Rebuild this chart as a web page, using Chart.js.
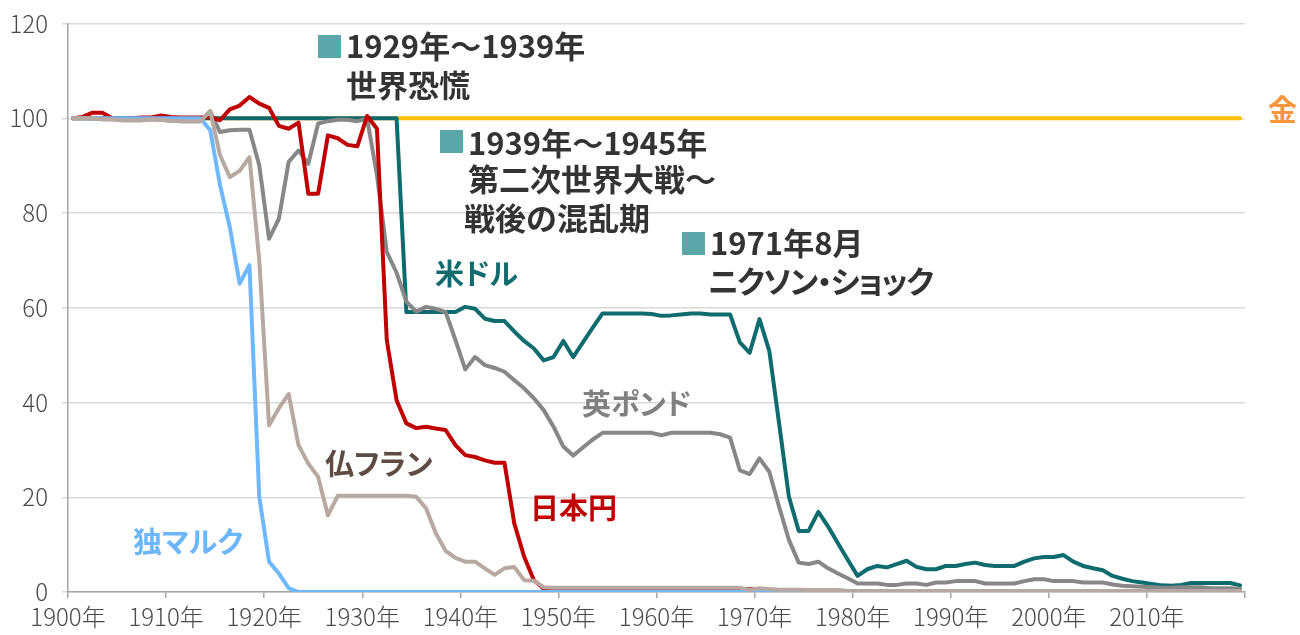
<!DOCTYPE html>
<html lang="ja">
<head>
<meta charset="utf-8">
<title>主要通貨の価値の推移（金=100）</title>
<script src="https://cdn.jsdelivr.net/npm/chart.js@4.4.1/dist/chart.umd.min.js"></script>
<style>
    html, body { margin: 0; padding: 0; background: #fff; }
    #wrap {
        position: relative;
        width: 1300px;
        height: 635px;
        font-family: "Noto Sans CJK JP", "Noto Sans", sans-serif;
    }
    #chart { position: absolute; left: 0; top: 0; }
    .note, .series {
        position: absolute;
        white-space: nowrap;
        font-weight: 700;
        line-height: 1;
    }
    .note { font-size: 31px; color: #333333; }
    .series { font-size: 29px; font-feature-settings: "palt"; }
    .kana { font-feature-settings: "palt"; letter-spacing: -1.5px; }
    .mark { position: absolute; width: 23px; height: 23px; background: #5ba6a6; }
</style>
</head>
<body>
<div id="wrap">
    <canvas id="chart" width="1300" height="635"></canvas>

    <!-- 出来事の注記 -->
    <div class="mark" style="left:318px; top:35px;"></div>
    <div class="note" style="left:346px; top:29px;">1929年～1939年</div>
    <div class="note" style="left:346px; top:68px;">世界恐慌</div>

    <div class="mark" style="left:440px; top:130px;"></div>
    <div class="note" style="left:468px; top:126px;">1939年～1945年</div>
    <div class="note" style="left:468px; top:162px;">第二次世界大戦～</div>
    <div class="note" style="left:464px; top:201px;">戦後の混乱期</div>

    <div class="mark" style="left:682px; top:232px;"></div>
    <div class="note" style="left:710px; top:226px;">1971年8月</div>
    <div class="note kana" style="left:708px; top:264px;">ニクソン・ショック</div>

    <!-- 系列名 -->
    <div class="series" style="left:435px; top:258px; color:#0f6b6e;">米ドル</div>
    <div class="series" style="left:582px; top:388px; color:#808080;">英ポンド</div>
    <div class="series" style="left:325px; top:448px; color:#5e4b43;">仏フラン</div>
    <div class="series" style="left:530px; top:492px; color:#c00000;">日本円</div>
    <div class="series" style="left:133px; top:526px; color:#6db6fc;">独マルク</div>
    <div class="series" style="left:1268px; top:94px; color:#f7963a;">金</div>
</div>

<script>
// 年次データ（1900年～2019年、金=100）
const years = [
    1900, 1901, 1902, 1903, 1904, 1905, 1906, 1907, 1908, 1909,
    1910, 1911, 1912, 1913, 1914, 1915, 1916, 1917, 1918, 1919,
    1920, 1921, 1922, 1923, 1924, 1925, 1926, 1927, 1928, 1929,
    1930, 1931, 1932, 1933, 1934, 1935, 1936, 1937, 1938, 1939,
    1940, 1941, 1942, 1943, 1944, 1945, 1946, 1947, 1948, 1949,
    1950, 1951, 1952, 1953, 1954, 1955, 1956, 1957, 1958, 1959,
    1960, 1961, 1962, 1963, 1964, 1965, 1966, 1967, 1968, 1969,
    1970, 1971, 1972, 1973, 1974, 1975, 1976, 1977, 1978, 1979,
    1980, 1981, 1982, 1983, 1984, 1985, 1986, 1987, 1988, 1989,
    1990, 1991, 1992, 1993, 1994, 1995, 1996, 1997, 1998, 1999,
    2000, 2001, 2002, 2003, 2004, 2005, 2006, 2007, 2008, 2009,
    2010, 2011, 2012, 2013, 2014, 2015, 2016, 2017, 2018, 2019
];

const gold = [
    100, 100, 100, 100, 100, 100, 100, 100, 100, 100,
    100, 100, 100, 100, 100, 100, 100, 100, 100, 100,
    100, 100, 100, 100, 100, 100, 100, 100, 100, 100,
    100, 100, 100, 100, 100, 100, 100, 100, 100, 100,
    100, 100, 100, 100, 100, 100, 100, 100, 100, 100,
    100, 100, 100, 100, 100, 100, 100, 100, 100, 100,
    100, 100, 100, 100, 100, 100, 100, 100, 100, 100,
    100, 100, 100, 100, 100, 100, 100, 100, 100, 100,
    100, 100, 100, 100, 100, 100, 100, 100, 100, 100,
    100, 100, 100, 100, 100, 100, 100, 100, 100, 100,
    100, 100, 100, 100, 100, 100, 100, 100, 100, 100,
    100, 100, 100, 100, 100, 100, 100, 100, 100, 100
];

const usd = [
    100, 100, 100, 100, 100, 100, 100, 100, 100, 100,
    100, 100, 100, 100, 100, 100, 100, 100, 100, 100,
    100, 100, 100, 100, 100, 100, 100, 100, 100, 100,
    100, 100, 100, 100, 59.1, 59.1, 59.1, 59.1, 59.1, 59.1,
    60.2, 59.8, 57.7, 57.2, 57.2, 55.0, 53.0, 51.4, 48.9, 49.6,
    53.0, 49.6, 52.7, 55.8, 58.8, 58.8, 58.8, 58.8, 58.8, 58.7,
    58.3, 58.4, 58.6, 58.8, 58.8, 58.6, 58.6, 58.6, 52.7, 50.5,
    57.6, 50.9, 35.6, 20.1, 12.9, 12.9, 16.9, 13.8, 10.3, 6.8,
    3.4, 4.8, 5.5, 5.2, 5.9, 6.6, 5.3, 4.8, 4.8, 5.5,
    5.5, 5.9, 6.2, 5.7, 5.5, 5.5, 5.5, 6.4, 7.1, 7.4,
    7.4, 7.8, 6.4, 5.5, 5.0, 4.6, 3.4, 2.8, 2.3, 2.0,
    1.7, 1.4, 1.3, 1.5, 1.9, 1.9, 1.9, 1.9, 1.9, 1.4
];

const gbp = [
    100, 100, 100, 99.8, 99.8, 99.6, 99.6, 99.6, 99.8, 99.7,
    99.5, 99.4, 99.4, 99.4, 101.5, 97.1, 97.5, 97.6, 97.6, 90.1,
    74.6, 78.8, 90.8, 93.2, 90.4, 98.9, 99.4, 99.7, 99.7, 99.4,
    99.9, 88.0, 71.8, 67.4, 61.3, 59.2, 60.2, 59.8, 59.1, 53.2,
    47.0, 49.6, 47.9, 47.3, 46.5, 44.7, 43.0, 40.9, 38.4, 34.9,
    30.7, 28.8, 30.5, 32.2, 33.6, 33.6, 33.6, 33.6, 33.6, 33.6,
    33.1, 33.6, 33.6, 33.6, 33.6, 33.6, 33.3, 32.6, 25.7, 24.9,
    28.2, 25.4, 18.0, 11.0, 6.2, 5.9, 6.4, 5.0, 3.9, 2.9,
    1.8, 1.8, 1.8, 1.5, 1.5, 1.8, 1.8, 1.5, 2.0, 2.0,
    2.3, 2.3, 2.3, 1.8, 1.8, 1.8, 1.8, 2.3, 2.7, 2.7,
    2.3, 2.3, 2.3, 2.0, 2.0, 2.0, 1.6, 1.3, 1.2, 1.1,
    1.0, 0.9, 0.9, 1.0, 1.0, 1.0, 0.8, 0.8, 0.8, 0.7
];

const frf = [
    100, 100, 100, 99.8, 99.8, 99.6, 99.6, 99.6, 99.8, 99.7,
    99.5, 99.4, 99.4, 99.4, 101.5, 92.2, 87.6, 88.9, 91.8, 70.0,
    35.2, 38.8, 41.8, 31.0, 27.1, 24.3, 16.2, 20.3, 20.3, 20.3,
    20.3, 20.3, 20.3, 20.3, 20.3, 20.1, 17.7, 12.4, 8.7, 7.2,
    6.4, 6.4, 5.0, 3.6, 5.0, 5.3, 2.5, 2.4, 1.0, 0.9,
    0.9, 0.9, 0.9, 0.9, 0.9, 0.9, 0.9, 0.9, 0.9, 0.9,
    0.9, 0.9, 0.9, 0.9, 0.9, 0.9, 0.9, 0.9, 0.9, 0.4,
    0.8, 0.6, 0.5, 0.5, 0.5, 0.4, 0.4, 0.4, 0.4, 0.2,
    0.2, 0.2, 0.2, 0.2, 0.2, 0.2, 0.2, 0.2, 0.2, 0.2,
    0.2, 0.2, 0.2, 0.2, 0.2, 0.2, 0.2, 0.2, 0.2, 0.2,
    0.2, 0.2, 0.2, 0.2, 0.2, 0.2, 0.2, 0.2, 0.2, 0.2,
    0.2, 0.2, 0.2, 0.2, 0.2, 0.2, 0.2, 0.2, 0.2, 0.2
];

const jpy = [
    100, 100.3, 101.2, 101.2, 100, 99.8, 100, 100.2, 100.2, 100.6,
    100.3, 100.2, 100.2, 100.2, 100.2, 99.6, 101.9, 102.7, 104.5, 103.1,
    102.2, 98.4, 97.8, 99.1, 84.1, 84.1, 96.4, 95.8, 94.4, 94.1,
    100.5, 97.8, 53.2, 40.5, 35.6, 34.6, 34.9, 34.5, 34.2, 31.0,
    28.9, 28.5, 27.8, 27.3, 27.3, 14.5, 7.5, 2.5, 0.7, 0.6,
    0.6, 0.6, 0.6, 0.6, 0.6, 0.6, 0.6, 0.6, 0.6, 0.6,
    0.6, 0.6, 0.6, 0.6, 0.6, 0.6, 0.6, 0.6, 0.6, 0.6,
    0.5, 0.5, 0.4, 0.3, 0.2, 0.2, 0.2, 0.2, 0.1, 0.1,
    0.1, 0.1, 0.1, 0.1, 0.1, 0.1, 0.1, 0.1, 0.1, 0.1,
    0.1, 0.1, 0.1, 0.1, 0.1, 0.1, 0.1, 0.1, 0.1, 0.1,
    0.1, 0.1, 0.1, 0.1, 0.1, 0.1, 0.1, 0.1, 0.1, 0.1,
    0.1, 0.1, 0.1, 0.1, 0.1, 0.1, 0.1, 0.1, 0.1, 0.1
];

const dem = [
    100, 100, 100, 100, 100, 100, 100, 100, 100, 100,
    100, 100, 100, 100, 97.5, 85.9, 77.0, 65.1, 69.0, 20.1,
    6.4, 3.9, 0.8, 0, 0, 0, 0, 0, 0, 0,
    0, 0, 0, 0, 0, 0, 0, 0, 0, 0,
    0, 0, 0, 0, 0, 0, 0, 0, 0, 0,
    0, 0, 0, 0, 0, 0, 0, 0, 0, 0,
    0, 0, 0, 0, 0, 0, 0, 0, 0, 0,
    0, 0, 0, 0, 0, 0, 0, 0, 0, 0,
    0, 0, 0, 0, 0, 0, 0, 0, 0, 0,
    0, 0, 0, 0, 0, 0, 0, 0, 0, 0,
    0, 0, 0, 0, 0, 0, 0, 0, 0, 0,
    0, 0, 0, 0, 0, 0, 0, 0, 0, 0
];

const tickYears = [1900, 1910, 1920, 1930, 1940, 1950, 1960, 1970, 1980, 1990, 2000, 2010];
const axisEndYear = 2020;
const yTicks = [0, 20, 40, 60, 80, 100, 120];

const FONT = '"Noto Sans CJK JP", "Noto Sans", sans-serif';

// 年平均値なので年の中央に置く
function toPoints(values) {
    return values.map((v, i) => ({ x: years[i] + 0.5, y: v }));
}

function lineSet(label, values, color) {
    return {
        label: label,
        data: toPoints(values),
        borderColor: color,
        borderWidth: 4,
        pointRadius: 0,
        borderCapStyle: 'round',
        borderJoinStyle: 'round',
        tension: 0
    };
}

// 先頭のデータセットが一番上に描かれる
const datasets = [
    lineSet('仏フラン', frf, '#b7a9a1'),
    lineSet('独マルク', dem, '#6db8ff'),
    lineSet('日本円', jpy, '#c00000'),
    lineSet('英ポンド', gbp, '#878787'),
    lineSet('米ドル', usd, '#0e6b6e'),
    lineSet('金', gold, '#ffc000')
];

new Chart(document.getElementById('chart'), {
    type: 'line',
    data: { datasets: datasets },
    options: {
        responsive: false,
        animation: false,
        devicePixelRatio: 1,
        layout: { padding: { left: 0, right: 55, top: 23, bottom: 0 } },
        plugins: {
            legend: { display: false },
            tooltip: { enabled: false }
        },
        scales: {
            x: {
                type: 'linear',
                min: 1900,
                max: axisEndYear,
                afterBuildTicks: (axis) => {
                    axis.ticks = tickYears.concat([axisEndYear]).map(v => ({ value: v }));
                },
                afterFit: (scale) => { scale.height = 43; },
                ticks: {
                    autoSkip: false,
                    maxRotation: 0,
                    padding: 4,
                    color: '#4a4a4a',
                    font: { family: FONT, size: 24, weight: '300' },
                    callback: (v) => tickYears.includes(v) ? v + '年' : ''
                },
                grid: {
                    drawOnChartArea: false,
                    drawTicks: true,
                    tickLength: 6,
                    color: '#a6a6a6',
                    lineWidth: 1.5
                },
                border: { color: '#a6a6a6', width: 1.5 }
            },
            y: {
                min: 0,
                max: 120,
                afterBuildTicks: (axis) => {
                    axis.ticks = yTicks.map(v => ({ value: v }));
                },
                afterFit: (scale) => { scale.width = 68; },
                ticks: {
                    padding: 14,
                    color: '#4a4a4a',
                    font: { family: FONT, size: 24, weight: '300', lineHeight: 0.8 }
                },
                grid: {
                    color: '#d9d9d9',
                    lineWidth: 1.5,
                    tickLength: 6
                },
                border: { color: '#a6a6a6', width: 1.5 }
            }
        }
    }
});
</script>
</body>
</html>
